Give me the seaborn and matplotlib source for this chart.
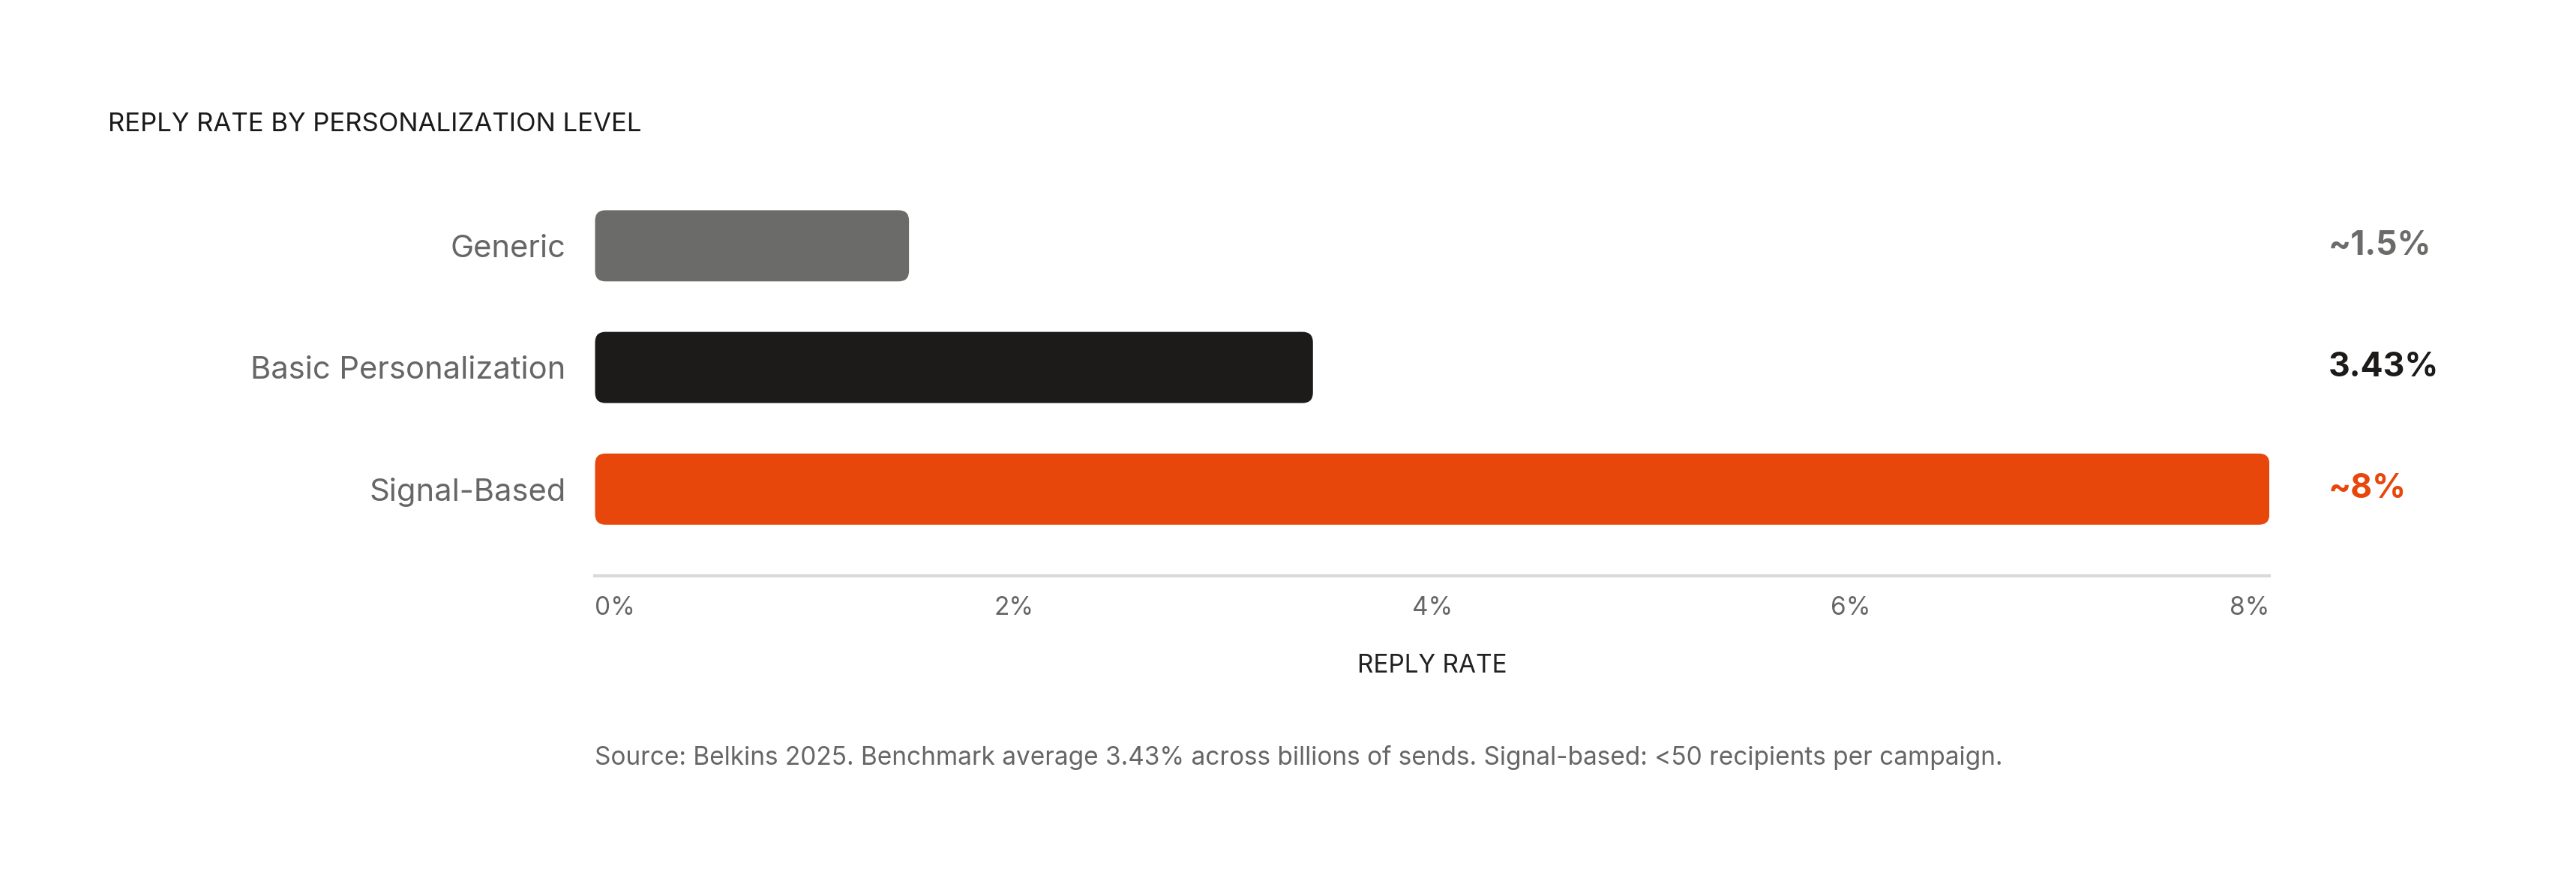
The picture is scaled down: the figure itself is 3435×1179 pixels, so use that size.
import matplotlib.pyplot as plt
import seaborn as sns
import pandas as pd
from matplotlib.patches import FancyBboxPatch

categories = ["Generic", "Basic Personalization", "Signal-Based"]
rates = [1.5, 3.43, 8.0]
value_labels = ["~1.5%", "3.43%", "~8%"]
colors = ["#6b6b69", "#1c1b1a", "#e8470c"]
ticks = [0, 2, 4, 6, 8]

sns.set_theme(style="white")
plt.rcParams["font.family"] = ["Inter", "DejaVu Sans"]

df = pd.DataFrame({"level": categories, "rate": rates})
fig = plt.figure(figsize=(17.175, 5.895), dpi=200)
ax = fig.add_axes([0.231, 0.349, 0.65, 0.4555])
sns.barplot(data=df, x="rate", y="level", hue="level", palette=colors,
            legend=False, width=0.585, ax=ax)

# swap plain rectangles for rounded ones
for p, c in zip(list(ax.patches), colors):
    x, y, w, h = p.get_x(), p.get_y(), p.get_width(), p.get_height()
    p.remove()
    ax.add_patch(FancyBboxPatch((x, y), w, h, boxstyle="round,pad=0,rounding_size=0.05",
                                mutation_aspect=1.72, fc=c, ec="none"))

ax.set_xlim(0, 8)
ax.set_ylim(2.71, -0.6)
ax.set_xticks(ticks)
ax.set_xticklabels([f"{t}%" for t in ticks], color="#666666", fontsize=12)
ax.get_xticklabels()[0].set_horizontalalignment("left")
ax.get_xticklabels()[-1].set_horizontalalignment("right")
ax.tick_params(axis="x", length=0, pad=10)
ax.tick_params(axis="y", length=0, pad=14)
ax.set_yticks(range(3))
ax.set_yticklabels(categories, color="#666666", fontsize=15)
ax.set_ylabel("")
ax.set_xlabel("REPLY RATE", fontsize=12, color="#222222", labelpad=16)
for s in ["top", "right", "left"]:
    ax.spines[s].set_visible(False)
ax.spines["bottom"].set_color("#d9d9d9")
ax.spines["bottom"].set_linewidth(1.5)

for i, (lab, c) in enumerate(zip(value_labels, colors)):
    ax.text(8.28, i, lab, color=c, fontsize=16, fontweight="bold", va="center", ha="left")

fig.text(0.042, 0.859, "REPLY RATE BY PERSONALIZATION LEVEL", fontsize=12.5,
         color="#1a1a1a", va="center")
fig.text(0.231, 0.143, "Source: Belkins 2025. Benchmark average 3.43% across billions of sends. "
         "Signal-based: <50 recipients per campaign.", fontsize=12, color="#666666", va="center")

fig.savefig("out.png", dpi=200, facecolor="white")
